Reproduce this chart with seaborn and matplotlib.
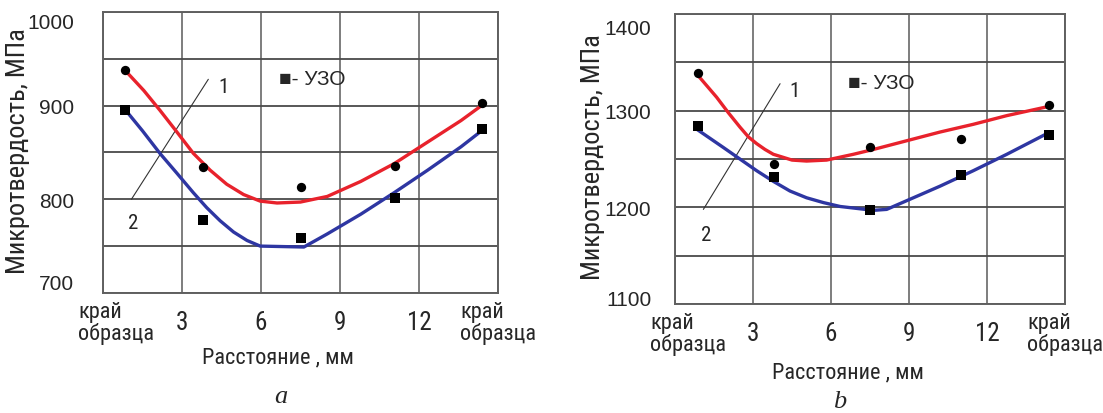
import os
import matplotlib
matplotlib.use("Agg")
import matplotlib.pyplot as plt
import matplotlib.transforms as mtransforms
from matplotlib import font_manager
from matplotlib.font_manager import FontProperties
import seaborn as sns

# ---- data (distance in mm, microhardness in MPa) ----
x_ticks = [0, 3, 6, 9, 12, 15]
x_tick_labels = ["край\nобразца", "3", "6", "9", "12", "край\nобразца"]

# panel a
a_y_major = [700, 800, 900, 1000]
a_y_minor = [750, 850, 950]
a_pts_x = [0.83, 3.79, 7.52, 11.11, 14.38]
a_circles = [938, 834, 813, 835, 903]
a_squares = [895, 778, 759, 801, 875]
a_red_x = [0.89, 1.55, 2.16, 2.80, 3.43, 4.07, 4.70, 5.34, 5.97, 6.61, 7.50, 8.52, 9.79, 11.06, 12.33, 13.60, 14.43]
a_red_y = [936, 916, 895, 872, 849, 831, 816, 805, 798, 796, 797, 803, 819, 838, 861, 884, 901]
a_blue_x = [0.83, 1.50, 2.16, 2.80, 3.43, 3.94, 4.45, 4.96, 5.47, 5.97, 7.63, 8.52, 9.79, 11.06, 12.33, 13.60, 14.47]
a_blue_y = [896, 873, 849, 828, 807, 791, 777, 765, 756, 750, 749, 763, 784, 807, 831, 856, 875]

# panel b
b_y_major = [1100, 1200, 1300, 1400]
b_y_minor = [1150, 1250, 1350]
b_pts_x = [0.87, 3.80, 7.50, 11.01, 14.37]
b_circles = [1339, 1245, 1263, 1271, 1306]
b_squares = [1284, 1232, 1197, 1234, 1275]
b_red_x = [0.90, 1.60, 2.05, 2.50, 2.82, 3.14, 3.46, 3.78, 4.14, 4.50, 5.06, 5.83, 6.86, 7.63, 8.91, 10.19, 11.47, 12.76, 14.29]
b_red_y = [1336, 1314, 1298, 1283, 1273, 1266, 1260, 1255, 1252, 1249, 1248, 1249, 1255, 1260, 1269, 1278, 1286, 1295, 1304]
b_blue_x = [0.83, 1.86, 2.50, 3.14, 3.78, 4.42, 5.06, 5.71, 6.35, 6.99, 7.63, 8.14, 8.91, 10.19, 11.47, 12.76, 14.42]
b_blue_y = [1281, 1262, 1250, 1238, 1227, 1217, 1210, 1205, 1201, 1199, 1197, 1198, 1207, 1222, 1238, 1255, 1278]

RED = "#e8222c"
BLUE = "#2e36a2"
GRID = "#4a4a4a"

sns.set_style("white")
plt.rcParams["font.family"] = ["Liberation Sans", "DejaVu Sans"]


def find_narrow():
    files = [f.fname for f in font_manager.fontManager.ttflist]
    for p in ["liberationsansnarrow-regular", "arialnarrow", "robotocondensed-regular",
              "notosans-condensed.", "opensans_condensed-regular", "dejavusanscondensed."]:
        for fn in files:
            if p in os.path.basename(fn).lower():
                return fn
    return None


NARROW_FILE = find_narrow()


def narrow(size):
    if NARROW_FILE:
        return FontProperties(fname=NARROW_FILE, size=size)
    return FontProperties(family="Liberation Sans", size=size * 0.88)


fig = plt.figure(figsize=(11.03, 4.14), dpi=100)
ax_a = fig.add_axes([0.0934, 0.290, 0.358, 0.679])
ax_b = fig.add_axes([0.612, 0.263, 0.3536, 0.7005])


def draw(ax, px, circ, sq, rx, ry, bx, by):
    sns.lineplot(x=rx, y=ry, ax=ax, color=RED, lw=2.4, sort=False, estimator=None, zorder=3)
    sns.lineplot(x=bx, y=by, ax=ax, color=BLUE, lw=2.4, sort=False, estimator=None, zorder=3)
    sns.scatterplot(x=px, y=circ, ax=ax, marker="o", color="black", s=45, linewidth=0, zorder=4)
    sns.scatterplot(x=px, y=sq, ax=ax, marker="s", color="black", s=50, linewidth=0, zorder=4)


def shift(txt, dx, dy):
    txt.set_transform(txt.get_transform() + mtransforms.ScaledTranslation(dx / 100, dy / 100, fig.dpi_scale_trans))


def style(ax, ymaj, ymin, ypad, xpad, ylab_x, xlab_y, end_shift):
    ax.set_xlim(0, 15)
    ax.set_ylim(ymaj[0], ymaj[-1])
    ax.set_xticks(x_ticks)
    ax.set_xticklabels(x_tick_labels)
    ax.set_yticks(ymaj)
    ax.set_yticks(ymin, minor=True)
    ax.grid(True, which="both", axis="y", color=GRID, lw=1.3)
    ax.grid(True, which="major", axis="x", color="#5a5a5a", lw=1.1)
    ax.tick_params(which="both", length=0)
    ax.tick_params(axis="y", pad=ypad, labelsize=15)
    ax.tick_params(axis="x", pad=xpad)
    for s in ax.spines.values():
        s.set_color("#606060")
        s.set_linewidth(1.4)
    for i, lbl in enumerate(ax.get_xticklabels()):
        lbl.set_va("center")
        lbl.set_multialignment("left")
        if i in (0, 5):
            lbl.set_fontproperties(narrow(16))
            lbl.set_linespacing(1.0)
        else:
            lbl.set_fontproperties(narrow(18))
    shift(ax.get_xticklabels()[0], 13, 0)
    ylbls = ax.get_yticklabels()
    shift(ylbls[0], 0, end_shift[0])
    shift(ylbls[-1], 0, end_shift[1])
    ax.set_ylabel("Микротвердость, МПа", fontproperties=narrow(19))
    ax.yaxis.set_label_coords(ylab_x, 0.51)
    ax.set_xlabel("Расстояние , мм", fontproperties=narrow(16))
    ax.xaxis.set_label_coords(0.443, xlab_y)


def annotate(ax, line, one, two, uzo):
    ax.plot([line[0], line[2]], [line[1], line[3]], color="#333333", lw=0.8, zorder=2)
    ax.text(one[0], one[1], "1", fontproperties=narrow(15), ha="center", va="center")
    ax.text(two[0], two[1], "2", fontproperties=narrow(15), ha="center", va="center")
    ax.text(uzo[0], uzo[1], "■- УЗО", fontsize=15, family=["Liberation Sans", "DejaVu Sans"],
            ha="left", va="center")


draw(ax_a, a_pts_x, a_circles, a_squares, a_red_x, a_red_y, a_blue_x, a_blue_y)
draw(ax_b, b_pts_x, b_circles, b_squares, b_red_x, b_red_y, b_blue_x, b_blue_y)
style(ax_a, a_y_major, a_y_minor, 21, 21, -0.185, -0.189, (11, -9))
style(ax_b, b_y_major, b_y_minor, 17, 21, -0.179, -0.197, (7, -12))
annotate(ax_a, (4.0, 928, 1.08, 800), (4.58, 920), (1.14, 775), (6.67, 929))
annotate(ax_b, (4.04, 1328, 1.09, 1198), (4.59, 1321), (1.18, 1172), (6.67, 1329))

fig.text(281 / 1103, 1 - 397 / 414, "a", fontsize=19, style="italic",
         family=["Liberation Serif", "DejaVu Serif"], ha="center", va="center")
fig.text(840 / 1103, 1 - 402 / 414, "b", fontsize=19, style="italic",
         family=["Liberation Serif", "DejaVu Serif"], ha="center", va="center")

fig.savefig("out.png", dpi=100)
